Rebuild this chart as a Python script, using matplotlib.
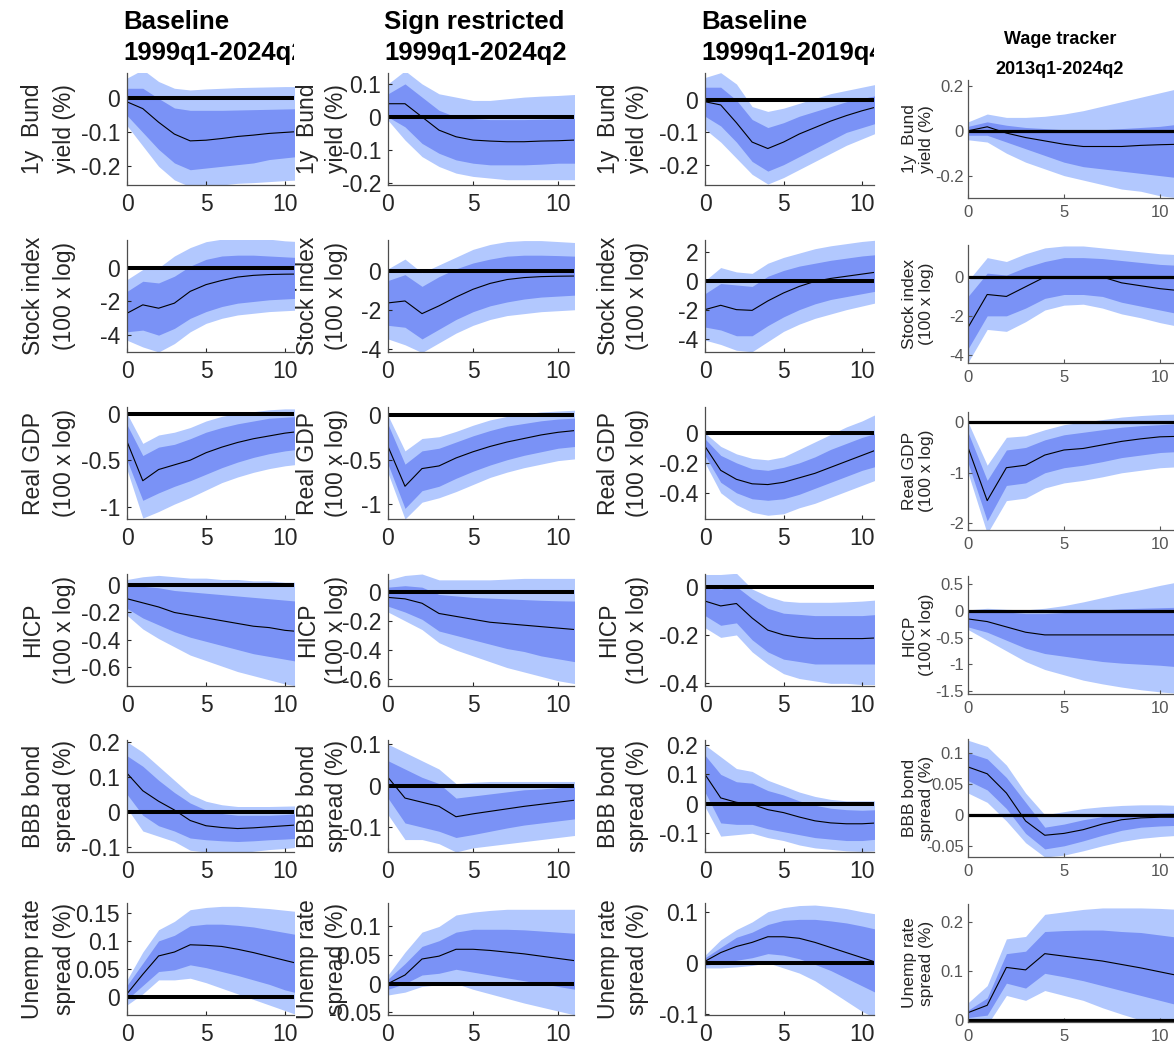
"""Impulse responses to a monetary policy shock: four samples/identifications."""

import matplotlib

matplotlib.use("Agg")
import matplotlib.pyplot as plt
from matplotlib.transforms import Bbox, TransformedBbox

plt.rcParams["font.family"] = ["Liberation Sans", "DejaVu Sans"]
plt.rcParams["axes.unicode_minus"] = False

HORIZON = list(range(12))

COL_TITLES = [
    ("Baseline", "1999q1-2024q2"),
    ("Sign restricted", "1999q1-2024q2"),
    ("Baseline", "1999q1-2019q4"),
    ("Wage tracker", "2013q1-2024q2"),
]
ROW_LABELS = [
    "1y  Bund\nyield (%)",
    "Stock index\n(100 x log)",
    "Real GDP\n(100 x log)",
    "HICP\n(100 x log)",
    "BBB bond\nspread (%)",
    "Unemp rate\nspread (%)",
]

# each panel: [lower 90%, lower 68%, median, upper 68%, upper 90%]
# --- Baseline 1999q1-2024q2
b1_bund = [
    [-0.08, -0.14, -0.2, -0.24, -0.26, -0.26, -0.255, -0.25, -0.248, -0.245, -0.242, -0.24],
    [-0.05, -0.1, -0.15, -0.19, -0.21, -0.205, -0.2, -0.195, -0.19, -0.18, -0.175, -0.17],
    [-0.01, -0.03, -0.07, -0.105, -0.125, -0.123, -0.118, -0.112, -0.108, -0.103, -0.1, -0.097],
    [0.03, 0.03, 0.0, -0.028, -0.035, -0.035, -0.035, -0.034, -0.033, -0.032, -0.031, -0.03],
    [0.06, 0.085, 0.05, 0.03, 0.025, 0.028, 0.03, 0.032, 0.033, 0.034, 0.035, 0.035],
]
b1_stock = [
    [-4.3, -4.7, -5.0, -4.5, -3.8, -3.3, -3.0, -2.8, -2.7, -2.6, -2.55, -2.5],
    [-3.8, -3.7, -4.0, -3.6, -3.0, -2.6, -2.3, -2.1, -2.0, -1.9, -1.85, -1.8],
    [-2.7, -2.2, -2.4, -2.1, -1.4, -1.0, -0.75, -0.55, -0.45, -0.4, -0.38, -0.37],
    [-1.4, -0.8, -0.9, -0.5, 0.1, 0.5, 0.7, 0.75, 0.75, 0.7, 0.65, 0.6],
    [-0.7, -0.1, 0.0, 0.7, 1.2, 1.55, 1.7, 1.75, 1.75, 1.7, 1.6, 1.55],
]
b1_gdp = [
    [-0.6, -1.12, -1.05, -0.97, -0.9, -0.82, -0.74, -0.68, -0.63, -0.59, -0.56, -0.54],
    [-0.5, -0.93, -0.85, -0.78, -0.72, -0.65, -0.58, -0.52, -0.47, -0.43, -0.4, -0.38],
    [-0.3, -0.72, -0.6, -0.55, -0.5, -0.42, -0.36, -0.31, -0.27, -0.24, -0.21, -0.19],
    [-0.12, -0.45, -0.36, -0.33, -0.27, -0.2, -0.15, -0.11, -0.08, -0.05, -0.04, -0.03],
    [0.0, -0.32, -0.23, -0.2, -0.15, -0.08, -0.03, 0.0, 0.02, 0.04, 0.05, 0.05],
]
b1_hicp = [
    [-0.22, -0.32, -0.39, -0.45, -0.51, -0.55, -0.59, -0.63, -0.66, -0.69, -0.72, -0.74],
    [-0.17, -0.24, -0.29, -0.34, -0.38, -0.41, -0.44, -0.47, -0.5, -0.52, -0.54, -0.56],
    [-0.1, -0.13, -0.16, -0.2, -0.22, -0.24, -0.26, -0.28, -0.3, -0.31, -0.33, -0.34],
    [0.0, -0.01, -0.02, -0.04, -0.05, -0.06, -0.07, -0.08, -0.09, -0.1, -0.11, -0.12],
    [0.04, 0.06, 0.07, 0.06, 0.05, 0.05, 0.04, 0.04, 0.03, 0.03, 0.02, 0.02],
]
b1_bbb = [
    [0.01, -0.055, -0.07, -0.085, -0.11, -0.115, -0.12, -0.118, -0.113, -0.108, -0.105, -0.1],
    [0.05, -0.01, -0.04, -0.055, -0.075, -0.08, -0.083, -0.085, -0.083, -0.08, -0.078, -0.075],
    [0.11, 0.06, 0.03, 0.005, -0.025, -0.04, -0.045, -0.048, -0.046, -0.043, -0.04, -0.037],
    [0.16, 0.13, 0.09, 0.055, 0.025, 0.005, -0.005, -0.01, -0.01, -0.01, -0.008, -0.005],
    [0.2, 0.17, 0.13, 0.09, 0.05, 0.03, 0.02, 0.015, 0.015, 0.015, 0.016, 0.017],
]
b1_unemp = [
    [-0.015, 0.005, 0.03, 0.03, 0.033, 0.025, 0.015, 0.005, -0.005, -0.015, -0.025, -0.035],
    [-0.005, 0.02, 0.045, 0.048, 0.057, 0.052, 0.045, 0.038, 0.03, 0.022, 0.012, 0.005],
    [0.005, 0.04, 0.073, 0.08, 0.093, 0.092, 0.09, 0.085, 0.079, 0.072, 0.065, 0.058],
    [0.02, 0.06, 0.1, 0.11, 0.127, 0.13, 0.13, 0.128, 0.125, 0.12, 0.115, 0.11],
    [0.03, 0.08, 0.12, 0.135, 0.156, 0.16, 0.162, 0.162, 0.16, 0.158, 0.155, 0.152],
]

# --- Sign restricted 1999q1-2024q2
sr_bund = [
    [-0.01, -0.07, -0.12, -0.15, -0.17, -0.18, -0.185, -0.19, -0.19, -0.19, -0.19, -0.19],
    [0.0, -0.03, -0.08, -0.11, -0.13, -0.14, -0.145, -0.145, -0.145, -0.143, -0.14, -0.14],
    [0.04, 0.04, 0.0, -0.04, -0.06, -0.07, -0.073, -0.075, -0.075, -0.073, -0.072, -0.07],
    [0.07, 0.1, 0.06, 0.02, 0.0, -0.005, -0.008, -0.008, -0.008, -0.007, -0.006, -0.005],
    [0.1, 0.14, 0.1, 0.07, 0.06, 0.05, 0.05, 0.055, 0.06, 0.063, 0.065, 0.068],
]
sr_stock = [
    [-3.5, -3.8, -4.2, -3.7, -3.2, -2.8, -2.5, -2.3, -2.2, -2.1, -2.05, -2.0],
    [-2.8, -2.9, -3.5, -3.0, -2.5, -2.1, -1.8, -1.6, -1.45, -1.35, -1.3, -1.25],
    [-1.65, -1.55, -2.2, -1.8, -1.35, -0.95, -0.65, -0.45, -0.35, -0.3, -0.28, -0.27],
    [-0.5, -0.2, -0.8, -0.3, 0.1, 0.4, 0.6, 0.75, 0.8, 0.8, 0.78, 0.75],
    [0.1, 0.6, -0.1, 0.3, 0.7, 1.1, 1.35, 1.5, 1.55, 1.55, 1.5, 1.45],
]
sr_gdp = [
    [-0.65, -1.17, -0.98, -0.93, -0.86, -0.78, -0.7, -0.64, -0.59, -0.55, -0.51, -0.49],
    [-0.55, -1.05, -0.85, -0.8, -0.71, -0.63, -0.56, -0.5, -0.45, -0.41, -0.37, -0.35],
    [-0.35, -0.8, -0.6, -0.57, -0.48, -0.41, -0.35, -0.3, -0.26, -0.22, -0.19, -0.17],
    [-0.1, -0.55, -0.4, -0.37, -0.3, -0.23, -0.17, -0.12, -0.09, -0.06, -0.04, -0.03],
    [0.0, -0.4, -0.26, -0.24, -0.18, -0.11, -0.05, -0.01, 0.02, 0.04, 0.05, 0.06],
]
sr_hicp = [
    [-0.14, -0.2, -0.26, -0.35, -0.4, -0.44, -0.48, -0.52, -0.55, -0.58, -0.61, -0.63],
    [-0.1, -0.14, -0.19, -0.27, -0.3, -0.33, -0.36, -0.39, -0.41, -0.44, -0.46, -0.48],
    [-0.04, -0.05, -0.08, -0.15, -0.17, -0.19, -0.21, -0.22, -0.23, -0.24, -0.25, -0.26],
    [0.03, 0.04, 0.03, -0.02, -0.03, -0.04, -0.045, -0.05, -0.055, -0.06, -0.063, -0.065],
    [0.08, 0.11, 0.12, 0.08, 0.08, 0.08, 0.08, 0.085, 0.09, 0.09, 0.09, 0.09],
]
sr_bbb = [
    [-0.07, -0.13, -0.13, -0.14, -0.16, -0.15, -0.145, -0.14, -0.135, -0.13, -0.125, -0.12],
    [-0.03, -0.09, -0.1, -0.11, -0.125, -0.118, -0.11, -0.102, -0.095, -0.09, -0.085, -0.08],
    [0.02, -0.03, -0.04, -0.05, -0.075, -0.068, -0.062, -0.056, -0.05, -0.045, -0.04, -0.035],
    [0.06, 0.04, 0.02, 0.005, -0.03, -0.025, -0.02, -0.015, -0.01, -0.008, -0.005, -0.003],
    [0.1, 0.08, 0.06, 0.04, 0.005, 0.008, 0.01, 0.01, 0.01, 0.01, 0.01, 0.01],
]
sr_unemp = [
    [-0.02, -0.015, -0.005, -0.002, 0.0, -0.01, -0.018, -0.026, -0.034, -0.041, -0.048, -0.055],
    [-0.01, 0.0, 0.015, 0.018, 0.025, 0.02, 0.015, 0.01, 0.005, 0.0, -0.005, -0.01],
    [0.0, 0.015, 0.043, 0.048, 0.06, 0.06, 0.058, 0.055, 0.052, 0.048, 0.044, 0.04],
    [0.008, 0.035, 0.065, 0.075, 0.09, 0.095, 0.095, 0.095, 0.094, 0.092, 0.09, 0.088],
    [0.015, 0.055, 0.09, 0.1, 0.12, 0.125, 0.128, 0.13, 0.13, 0.13, 0.13, 0.13],
]

# --- Baseline 1999q1-2019q4
b2_bund = [
    [-0.09, -0.13, -0.18, -0.23, -0.26, -0.24, -0.215, -0.19, -0.165, -0.14, -0.12, -0.1],
    [-0.05, -0.08, -0.13, -0.19, -0.22, -0.2, -0.175, -0.15, -0.125, -0.1, -0.085, -0.07],
    [-0.005, -0.015, -0.07, -0.13, -0.15, -0.13, -0.105, -0.085, -0.065, -0.048, -0.033, -0.02],
    [0.04, 0.04, 0.0, -0.06, -0.085, -0.07, -0.05, -0.035, -0.02, -0.005, 0.005, 0.015],
    [0.07, 0.085, 0.05, -0.02, -0.035, -0.025, -0.01, 0.005, 0.02, 0.03, 0.04, 0.05],
]
b2_stock = [
    [-4.1, -4.4, -4.8, -4.9, -4.2, -3.5, -3.0, -2.6, -2.3, -2.0, -1.75, -1.5],
    [-3.2, -3.4, -3.8, -3.8, -3.1, -2.5, -2.0, -1.6, -1.3, -1.1, -0.9, -0.7],
    [-2.0, -1.7, -2.0, -2.05, -1.4, -0.85, -0.4, -0.05, 0.15, 0.3, 0.45, 0.6],
    [-0.9, -0.2, -0.3, -0.4, 0.3, 0.7, 1.0, 1.2, 1.4, 1.55, 1.7, 1.8],
    [0.0, 0.9, 0.6, 0.5, 1.2, 1.6, 1.9, 2.2, 2.4, 2.55, 2.7, 2.8],
]
b2_gdp = [
    [-0.2, -0.4, -0.48, -0.53, -0.55, -0.54, -0.5, -0.47, -0.43, -0.39, -0.35, -0.31],
    [-0.15, -0.33, -0.4, -0.44, -0.45, -0.44, -0.41, -0.37, -0.33, -0.29, -0.25, -0.22],
    [-0.09, -0.25, -0.31, -0.34, -0.345, -0.33, -0.3, -0.27, -0.23, -0.19, -0.15, -0.11],
    [-0.04, -0.15, -0.2, -0.24, -0.25, -0.23, -0.2, -0.16, -0.11, -0.07, -0.03, 0.0],
    [0.0, -0.09, -0.14, -0.17, -0.18, -0.16, -0.11, -0.06, -0.01, 0.04, 0.08, 0.13],
]
b2_hicp = [
    [-0.17, -0.21, -0.2, -0.27, -0.32, -0.36, -0.38, -0.39, -0.4, -0.4, -0.405, -0.405],
    [-0.12, -0.16, -0.15, -0.22, -0.27, -0.3, -0.31, -0.32, -0.32, -0.32, -0.32, -0.32],
    [-0.06, -0.08, -0.07, -0.13, -0.18, -0.2, -0.21, -0.215, -0.215, -0.215, -0.215, -0.212],
    [0.0, -0.01, 0.0, -0.05, -0.09, -0.11, -0.115, -0.12, -0.12, -0.12, -0.12, -0.115],
    [0.05, 0.05, 0.055, -0.01, -0.04, -0.06, -0.065, -0.065, -0.065, -0.063, -0.06, -0.055],
]
b2_bbb = [
    [-0.01, -0.11, -0.105, -0.1, -0.115, -0.125, -0.14, -0.15, -0.155, -0.16, -0.162, -0.16],
    [0.04, -0.065, -0.07, -0.07, -0.085, -0.095, -0.105, -0.115, -0.12, -0.125, -0.125, -0.12],
    [0.1, 0.02, 0.005, -0.002, -0.02, -0.03, -0.045, -0.058, -0.065, -0.068, -0.068, -0.065],
    [0.165, 0.1, 0.075, 0.07, 0.045, 0.03, 0.01, -0.005, -0.015, -0.02, -0.022, -0.02],
    [0.2, 0.16, 0.12, 0.11, 0.08, 0.06, 0.04, 0.025, 0.015, 0.01, 0.01, 0.01],
]
b2_unemp = [
    [-0.01, -0.01, -0.008, -0.005, 0.0, -0.01, -0.02, -0.035, -0.055, -0.075, -0.095, -0.11],
    [-0.005, 0.0, 0.005, 0.01, 0.018, 0.015, 0.008, -0.003, -0.015, -0.03, -0.045, -0.06],
    [0.003, 0.02, 0.032, 0.04, 0.051, 0.051, 0.048, 0.04, 0.03, 0.02, 0.01, 0.0],
    [0.01, 0.03, 0.05, 0.06, 0.075, 0.083, 0.085, 0.085, 0.082, 0.078, 0.072, 0.065],
    [0.015, 0.045, 0.065, 0.08, 0.1, 0.108, 0.112, 0.113, 0.11, 0.106, 0.1, 0.095],
]

# --- Wage tracker 2013q1-2024q2
wt_bund = [
    [-0.04, -0.05, -0.1, -0.14, -0.17, -0.2, -0.22, -0.24, -0.26, -0.27, -0.29, -0.3],
    [-0.02, -0.02, -0.05, -0.08, -0.11, -0.14, -0.16, -0.17, -0.18, -0.19, -0.2, -0.21],
    [0.0, 0.018, -0.01, -0.03, -0.045, -0.06, -0.07, -0.07, -0.07, -0.065, -0.062, -0.06],
    [0.02, 0.04, 0.025, 0.015, 0.01, 0.005, 0.0, 0.005, 0.01, 0.015, 0.02, 0.03],
    [0.04, 0.075, 0.06, 0.06, 0.065, 0.075, 0.09, 0.11, 0.13, 0.15, 0.17, 0.19],
]
wt_stock = [
    [-4.4, -2.7, -2.8, -2.3, -1.7, -1.45, -1.4, -1.6, -1.9, -2.1, -2.35, -2.55],
    [-3.7, -2.0, -2.0, -1.6, -1.1, -0.9, -0.9, -1.0, -1.3, -1.5, -1.7, -1.9],
    [-2.6, -0.9, -1.0, -0.5, 0.0, 0.0, 0.0, 0.0, -0.3, -0.45, -0.6, -0.7],
    [-1.0, 0.2, 0.1, 0.5, 0.8, 1.0, 1.0, 0.95, 0.85, 0.75, 0.65, 0.6],
    [-0.2, 1.0, 0.8, 1.2, 1.5, 1.6, 1.6, 1.5, 1.4, 1.3, 1.2, 1.15],
]
wt_gdp = [
    [-1.0, -2.2, -1.55, -1.5, -1.3, -1.2, -1.15, -1.08, -1.0, -0.95, -0.9, -0.88],
    [-0.8, -1.95, -1.25, -1.2, -1.0, -0.9, -0.85, -0.78, -0.7, -0.65, -0.6, -0.58],
    [-0.5, -1.55, -0.9, -0.85, -0.65, -0.55, -0.52, -0.45, -0.38, -0.33, -0.29, -0.28],
    [-0.2, -1.15, -0.55, -0.5, -0.35, -0.25, -0.2, -0.15, -0.1, -0.07, -0.05, -0.03],
    [0.0, -0.85, -0.3, -0.27, -0.15, -0.05, 0.0, 0.05, 0.1, 0.13, 0.15, 0.16],
]
wt_hicp = [
    [-0.35, -0.55, -0.75, -0.95, -1.1, -1.2, -1.3, -1.37, -1.43, -1.48, -1.52, -1.55],
    [-0.3, -0.4, -0.55, -0.7, -0.8, -0.85, -0.9, -0.95, -0.98, -1.0, -1.02, -1.05],
    [-0.15, -0.2, -0.3, -0.4, -0.45, -0.45, -0.45, -0.45, -0.45, -0.45, -0.45, -0.45],
    [0.0, 0.0, -0.02, -0.05, -0.05, -0.03, 0.0, 0.02, 0.04, 0.05, 0.06, 0.07],
    [0.02, 0.05, 0.03, 0.02, 0.05, 0.1, 0.17, 0.25, 0.33, 0.4, 0.48, 0.55],
]
wt_bbb = [
    [0.035, 0.02, -0.01, -0.045, -0.068, -0.065, -0.058, -0.05, -0.043, -0.038, -0.035, -0.033],
    [0.055, 0.04, 0.01, -0.03, -0.055, -0.05, -0.042, -0.033, -0.025, -0.02, -0.018, -0.017],
    [0.077, 0.066, 0.035, -0.01, -0.033, -0.03, -0.024, -0.015, -0.008, -0.005, -0.004, -0.004],
    [0.1, 0.09, 0.06, 0.02, -0.02, -0.015, -0.008, -0.003, 0.0, 0.002, 0.003, 0.004],
    [0.12, 0.11, 0.08, 0.035, 0.0, 0.005, 0.01, 0.013, 0.015, 0.016, 0.016, 0.015],
]
wt_unemp = [
    [-0.005, -0.01, 0.05, 0.04, 0.06, 0.05, 0.04, 0.025, 0.012, 0.0, -0.01, -0.02],
    [0.005, 0.01, 0.075, 0.065, 0.095, 0.088, 0.08, 0.07, 0.06, 0.05, 0.04, 0.03],
    [0.015, 0.03, 0.107, 0.102, 0.135, 0.13, 0.125, 0.12, 0.113, 0.106, 0.098, 0.09],
    [0.02, 0.045, 0.135, 0.14, 0.18, 0.182, 0.183, 0.183, 0.18, 0.178, 0.173, 0.168],
    [0.035, 0.07, 0.165, 0.17, 0.215, 0.22, 0.225, 0.228, 0.228, 0.228, 0.227, 0.225],
]

PANELS = [
    [b1_bund, sr_bund, b2_bund, wt_bund],
    [b1_stock, sr_stock, b2_stock, wt_stock],
    [b1_gdp, sr_gdp, b2_gdp, wt_gdp],
    [b1_hicp, sr_hicp, b2_hicp, wt_hicp],
    [b1_bbb, sr_bbb, b2_bbb, wt_bbb],
    [b1_unemp, sr_unemp, b2_unemp, wt_unemp],
]

# axis ranges and ticks (row, col)
YLIMS = [
    [(-0.255, 0.075), (-0.206, 0.133), (-0.263, 0.084), (-0.3, 0.227)],
    [(-5.0, 1.65), (-4.17, 1.58), (-4.92, 2.8), (-4.43, 1.65)],
    [(-1.13, 0.07), (-1.17, 0.096), (-0.575, 0.173), (-2.13, 0.2)],
    [(-0.735, 0.08), (-0.646, 0.12), (-0.411, 0.052), (-1.56, 0.656)],
    [(-0.115, 0.205), (-0.16, 0.11), (-0.164, 0.217), (-0.068, 0.122)],
    [(-0.033, 0.168), (-0.055, 0.141), (-0.102, 0.117), (-0.004, 0.236)],
]
YTICKS = [
    [[-0.2, -0.1, 0], [-0.2, -0.1, 0, 0.1], [-0.2, -0.1, 0], [-0.2, 0, 0.2]],
    [[-4, -2, 0], [-4, -2, 0], [-4, -2, 0, 2], [-4, -2, 0]],
    [[-1, -0.5, 0], [-1, -0.5, 0], [-0.4, -0.2, 0], [-2, -1, 0]],
    [[-0.6, -0.4, -0.2, 0], [-0.6, -0.4, -0.2, 0], [-0.4, -0.2, 0], [-1.5, -1, -0.5, 0, 0.5]],
    [[-0.1, 0, 0.1, 0.2], [-0.1, 0, 0.1], [-0.1, 0, 0.1, 0.2], [-0.05, 0, 0.05, 0.1]],
    [[0, 0.05, 0.1, 0.15], [-0.05, 0, 0.05, 0.1], [-0.1, 0, 0.1], [0, 0.1, 0.2]],
]

LIGHT = "#b2c8fe"
DARK = "#7a92f6"
W, H = 1174, 1046

# pixel layout
COL_LEFT = [127, 388, 705, 968]
COL_WIDTH = [167, 186, 169, 206]
COL_LABEL_X = [49, 322, 623, 918]
COL_LABEL_SPACING = [1.5, 1.3, 1.35, 1.15]
ROW_BOTTOM = [[185, 352, 519, 686, 852, 1015], [198, 363, 530, 694, 857, 1022]]
ROW_HEIGHT = [112, 118]
XMAX = [10.57, 10.94, 10.76, 10.73]

fig = plt.figure(figsize=(W / 100, H / 100), dpi=100)

for c in range(4):
    small = c == 3
    tick_fs = 12 if small else 16.5
    lab_fs = 12.5 if small else 16.5
    grp = 1 if small else 0
    for r in range(6):
        bottom = ROW_BOTTOM[grp][r]
        height = ROW_HEIGHT[grp]
        ax = fig.add_axes([COL_LEFT[c] / W, 1 - bottom / H,
                           COL_WIDTH[c] / W, height / H])
        lo90, lo68, med, hi68, hi90 = PANELS[r][c]
        ax.fill_between(HORIZON, lo90, hi90, color=LIGHT, lw=0)
        ax.fill_between(HORIZON, lo68, hi68, color=DARK, lw=0)
        ax.axhline(0, color="black", lw=2.9 if not small else 2.3)
        ax.plot(HORIZON, med, color="black", lw=0.8)
        ax.set_xlim(0, XMAX[c])
        ax.set_ylim(*YLIMS[r][c])
        ax.set_xticks([0, 5, 10])
        ax.set_xticklabels(["0", "5", "10"])
        yt = YTICKS[r][c]
        ax.set_yticks(yt)
        ax.set_yticklabels([f"{v:g}" for v in yt])
        for side in ("top", "right"):
            ax.spines[side].set_visible(False)
        for side in ("left", "bottom"):
            ax.spines[side].set_color("#4d4d4d" if not small else "#555555")
            ax.spines[side].set_linewidth(0.9)
        ax.tick_params(direction="in", length=3, width=0.8,
                       labelsize=tick_fs, colors="#262626" if not small else "#555555")
        ax.tick_params(axis="y", pad=5 if not small else 3)
        ax.tick_params(axis="x", pad=6 if not small else 5)
        yc = 1 - (bottom - height / 2) / H
        fig.text(COL_LABEL_X[c] / W, yc, ROW_LABELS[r], rotation=90,
                 ha="center", va="center", fontsize=lab_fs,
                 linespacing=COL_LABEL_SPACING[c], color="#262626")

# column titles, clipped at the right edge of each column like the source
for c, (t1, t2) in enumerate(COL_TITLES):
    right = (COL_LEFT[c] + COL_WIDTH[c]) / W
    clip = TransformedBbox(Bbox([[0, 0], [right, 1]]), fig.transFigure)
    if c < 3:
        x = (COL_LEFT[c] - 4) / W
        lines = [(t1, 22), (t2, 53)]
        kw = dict(ha="left", fontsize=18.5, fontweight="bold")
    else:
        x = 1060 / W
        lines = [(t1, 40), (t2, 70)]
        kw = dict(ha="center", fontsize=13, fontweight="bold")
    for text, ypix in lines:
        t = fig.text(x, 1 - ypix / H, text, va="center", color="black", **kw)
        t.set_clip_box(clip)
        t.set_clip_on(True)

fig.savefig("out.png", dpi=100)
